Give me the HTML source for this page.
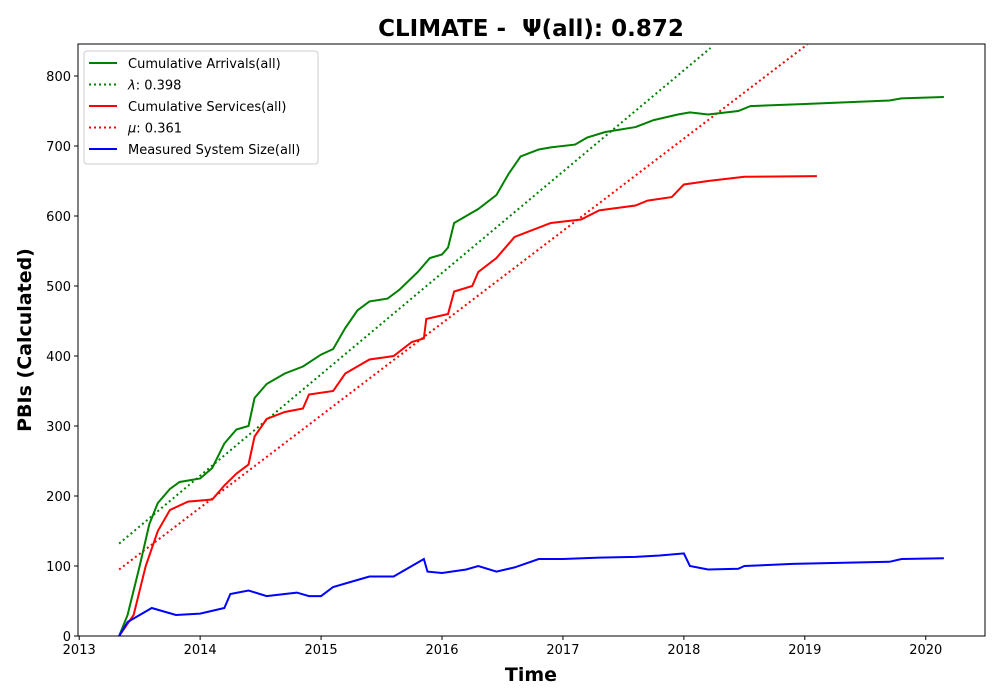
<!DOCTYPE html>
<html><head><meta charset="utf-8"><style>
body{margin:0;background:#fff;font-family:"DejaVu Sans","Liberation Sans",sans-serif;}
svg{display:block}
</style></head><body>
<svg id="chart" width="1000" height="700" xmlns="http://www.w3.org/2000/svg"></svg>
<script>
const xTicks=[2013,2014,2015,2016,2017,2018,2019,2020];
const yTicks=[0,100,200,300,400,500,600,700,800];
const arrivals=[[2013.33,0],[2013.4,30],[2013.5,100],[2013.58,160],[2013.65,190],[2013.75,210],[2013.83,220],[2014.0,225],[2014.1,240],[2014.2,275],[2014.3,295],[2014.4,300],[2014.45,340],[2014.55,360],[2014.7,375],[2014.85,385],[2015.0,402],[2015.1,410],[2015.2,440],[2015.3,465],[2015.4,478],[2015.55,482],[2015.65,495],[2015.8,520],[2015.9,540],[2016.0,545],[2016.05,555],[2016.1,590],[2016.2,600],[2016.3,610],[2016.45,630],[2016.55,660],[2016.65,685],[2016.8,695],[2016.9,698],[2017.1,702],[2017.2,712],[2017.35,720],[2017.6,727],[2017.75,737],[2017.95,745],[2018.05,748],[2018.2,745],[2018.45,750],[2018.55,757],[2019.0,760],[2019.7,765],[2019.8,768],[2020.15,770]];
const services=[[2013.33,0],[2013.45,30],[2013.55,100],[2013.65,150],[2013.75,180],[2013.9,192],[2014.1,195],[2014.2,215],[2014.3,232],[2014.4,245],[2014.45,285],[2014.55,310],[2014.7,320],[2014.85,325],[2014.9,345],[2015.1,350],[2015.2,375],[2015.3,385],[2015.4,395],[2015.6,400],[2015.75,420],[2015.85,425],[2015.87,453],[2016.05,460],[2016.1,492],[2016.25,500],[2016.3,520],[2016.45,540],[2016.6,570],[2016.75,580],[2016.9,590],[2017.15,595],[2017.3,608],[2017.6,615],[2017.7,622],[2017.9,627],[2018.0,645],[2018.2,650],[2018.5,656],[2019.1,657]];
const systemSize=[[2013.33,0],[2013.4,20],[2013.5,30],[2013.6,40],[2013.7,35],[2013.8,30],[2014.0,32],[2014.2,40],[2014.25,60],[2014.4,65],[2014.55,57],[2014.7,60],[2014.8,62],[2014.9,57],[2015.0,57],[2015.1,70],[2015.3,80],[2015.4,85],[2015.6,85],[2015.7,95],[2015.85,110],[2015.88,92],[2016.0,90],[2016.2,95],[2016.3,100],[2016.45,92],[2016.6,98],[2016.8,110],[2017.0,110],[2017.3,112],[2017.6,113],[2017.8,115],[2018.0,118],[2018.05,100],[2018.2,95],[2018.45,96],[2018.5,100],[2018.9,103],[2019.7,106],[2019.8,110],[2020.15,111]];
const lambdaLine=[[2013.33,132],[2018.22,840]];
const muLine=[[2013.33,95],[2019.02,845]];
const L=78,R=985,T=44,B=636;
const xmin=2012.99,xmax=2020.49,ymin=0,ymax=845.7;
const X=v=>L+(v-xmin)/(xmax-xmin)*(R-L);
const Y=v=>B-(v-ymin)/(ymax-ymin)*(B-T);
const svg=document.getElementById('chart');
const NS='http://www.w3.org/2000/svg';
function mk(tag,attrs,parent){const e=document.createElementNS(NS,tag);for(const k in attrs)e.setAttribute(k,attrs[k]);(parent||svg).appendChild(e);return e;}
function txt(s,attrs){const e=mk('text',attrs);e.textContent=s;return e;}
const clip=mk('clipPath',{id:'pc'});mk('rect',{x:L,y:T,width:R-L,height:B-T},clip);
function line(data,color,dash,name){
 const p=mk('polyline',{points:data.map(d=>X(d[0])+','+Y(d[1])).join(' '),fill:'none',stroke:color,'stroke-width':2,'clip-path':'url(#pc)'});
 if(dash)p.setAttribute('stroke-dasharray',dash);
 
 
}
line(lambdaLine,'#008000','2,3','lambda-line');
line(muLine,'#ff0000','2,3','mu-line');
line(arrivals,'#008000',null,'cumulative-arrivals-line');
line(services,'#ff0000',null,'cumulative-services-line');
line(systemSize,'#0000ff',null,'system-size-line');
const frame=mk('rect',{x:L,y:T,width:R-L,height:B-T,fill:'none',stroke:'#000','stroke-width':1});


xTicks.forEach(t=>{const x=X(t);mk('line',{x1:x,x2:x,y1:B,y2:B+4,stroke:'#000'});
 const e=txt(t,{x:x,y:B+18,'font-size':13,'text-anchor':'middle'});
 
 });
yTicks.forEach(t=>{const y=Y(t);mk('line',{x1:L-4,x2:L,y1:y,y2:y,stroke:'#000'});
 const e=txt(t,{x:L-7,y:y+5,'font-size':13,'text-anchor':'end'});
 
 });
let e=txt('CLIMATE - \u00a0Ψ(all): 0.872',{x:531,y:36,'font-size':23,'font-weight':'bold','text-anchor':'middle'});

e=txt('Time',{x:531,y:681,'font-size':19,'font-weight':'bold','text-anchor':'middle'});

e=txt('PBIs (Calculated)',{x:0,y:0,'font-size':19,'font-weight':'bold','text-anchor':'middle',transform:'translate(31,340) rotate(-90)'});

const lg=mk('g',{});

mk('rect',{x:84,y:51,width:234,height:113,rx:3,fill:'#fff','fill-opacity':0.8,stroke:'#ccc'},lg);
const items=[['Cumulative Arrivals(all)','#008000',null,''],['λ',' : 0.398'.trim(),'#008000'],['Cumulative Services(all)','#ff0000',null,''],['μ',': 0.361','#ff0000'],['Measured System Size(all)','#0000ff',null,'']];
const entries=[['Cumulative Arrivals(all)','','#008000',null],['λ',': 0.398','#008000','2,3'],['Cumulative Services(all)','','#ff0000',null],['μ',': 0.361','#ff0000','2,3'],['Measured System Size(all)','','#0000ff',null]];
entries.forEach((it,i)=>{const y=63+i*21.5;const g=mk('g',{},lg);
 
 const l=mk('line',{x1:89,x2:117,y1:y,y2:y,stroke:it[2],'stroke-width':2},g);if(it[3])l.setAttribute('stroke-dasharray',it[3]);
 const t=mk('text',{x:128,y:y+5,'font-size':13},g);
 if(it[1]){const a=mk('tspan',{'font-style':'italic'},t);a.textContent=it[0];const b=mk('tspan',{},t);b.textContent=it[1];}
 else t.textContent=it[0];});
</script>
</body></html>
